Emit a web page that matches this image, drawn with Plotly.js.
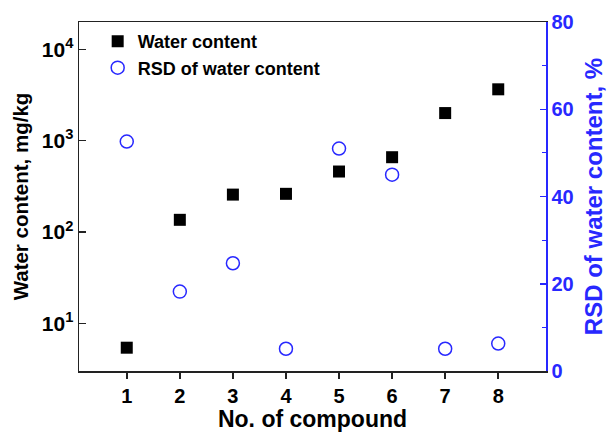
<!DOCTYPE html>
<html>
<head>
<meta charset="utf-8">
<script src="https://cdn.plot.ly/plotly-3.0.1.min.js"></script>
<style>html,body{margin:0;padding:0;background:#fff;}#chart{width:611px;height:434px;}</style>
</head>
<body>
<div id="chart"></div>
<script>
// Data
const compounds = [1, 2, 3, 4, 5, 6, 7, 8];
const waterContent = [5.4, 136, 257, 262, 460, 660, 2010, 3660];   // mg/kg
const rsdWater = [52.6, 18.2, 24.7, 5.1, 51.0, 45.0, 5.1, 6.3];     // %
const xTickVals = [1, 2, 3, 4, 5, 6, 7, 8];
const xTickText = ['1', '2', '3', '4', '5', '6', '7', '8'];
const yTickVals = [10, 100, 1000, 10000];
const yTickText = ['10<sup>1</sup>', '10<sup>2</sup>', '10<sup>3</sup>', '10<sup>4</sup>'];
const yMinorVals = [4,5,6,7,8,9,20,30,40,50,60,70,80,90,200,300,400,500,600,700,800,900,2000,3000,4000,5000,6000,7000,8000,9000];

const FONT = 'Arial, "Liberation Sans", sans-serif';
const BLUE = 'rgb(40,40,255)';
const LOGRANGE = [Math.log10(3), Math.log10(20000)];

const traces = [
  {
    x: compounds, y: waterContent, name: 'Water content',
    type: 'scatter', mode: 'markers',
    marker: {symbol: 'square', size: 12, color: '#000'},
    yaxis: 'y'
  },
  {
    x: compounds, y: rsdWater, name: 'RSD of water content',
    type: 'scatter', mode: 'markers',
    marker: {symbol: 'circle-open', size: 13, color: BLUE, line: {width: 1.5, color: BLUE}},
    yaxis: 'y2'
  }
];

const layout = {
  width: 611, height: 434,
  margin: {l: 79, r: 65, t: 22, b: 63},
  paper_bgcolor: '#fff', plot_bgcolor: '#fff',
  font: {family: FONT, color: '#000', weight: 'bold'},
  showlegend: true,
  legend: {
    x: 0.04, y: 0.997, xanchor: 'left', yanchor: 'top',
    bgcolor: 'rgba(0,0,0,0)',
    font: {family: FONT, size: 18, weight: 'bold', color: '#000'},
    tracegroupgap: 0
  },
  xaxis: {
    range: [0.1, 8.9],
    tickmode: 'array', tickvals: xTickVals, ticktext: xTickText,
    ticks: 'outside', ticklen: 6, tickwidth: 1.5, tickcolor: '#222',
    showline: true, linecolor: '#222', linewidth: 1.5, mirror: true,
    showgrid: false, zeroline: false,
    tickfont: {family: FONT, size: 20, weight: 'bold'},
    title: {text: 'No. of compound', font: {family: FONT, size: 23, weight: 'bold'}, standoff: 4}
  },
  yaxis: {
    type: 'log',
    range: LOGRANGE,
    tickmode: 'array', tickvals: yTickVals, ticktext: yTickText,
    ticks: 'inside', ticklen: 7, tickwidth: 1.5, tickcolor: '#222',
    showline: true, linecolor: '#222', linewidth: 1.5,
    showgrid: false, zeroline: false,
    tickfont: {family: FONT, size: 21, weight: 'bold'},
    title: {text: 'Water content, mg/kg', font: {family: FONT, size: 20.5, weight: 'bold'}, standoff: 7}
  },
  // minor log ticks on the left axis
  yaxis3: {
    type: 'log', overlaying: 'y', side: 'left', anchor: 'x',
    range: LOGRANGE,
    tickmode: 'array', tickvals: yMinorVals,
    ticks: 'inside', ticklen: 4, tickwidth: 1, tickcolor: '#222',
    showticklabels: false, showline: false, showgrid: false, zeroline: false
  },
  yaxis2: {
    overlaying: 'y', side: 'right',
    range: [0, 80], dtick: 20, tick0: 0,
    ticks: 'inside', ticklen: 6, tickwidth: 1.5, tickcolor: BLUE,
    minor: {dtick: 10, ticks: 'inside', ticklen: 4, tickwidth: 1, tickcolor: BLUE, showgrid: false},
    showline: true, linecolor: BLUE, linewidth: 1.5,
    showgrid: false, zeroline: false,
    tickfont: {family: FONT, size: 20, weight: 'bold', color: BLUE},
    title: {text: 'RSD of water content, %', font: {family: FONT, size: 24, weight: 'bold', color: BLUE}, standoff: 12}
  }
};

Plotly.newPlot('chart', traces, layout, {displayModeBar: false, staticPlot: true});
</script>
</body>
</html>
